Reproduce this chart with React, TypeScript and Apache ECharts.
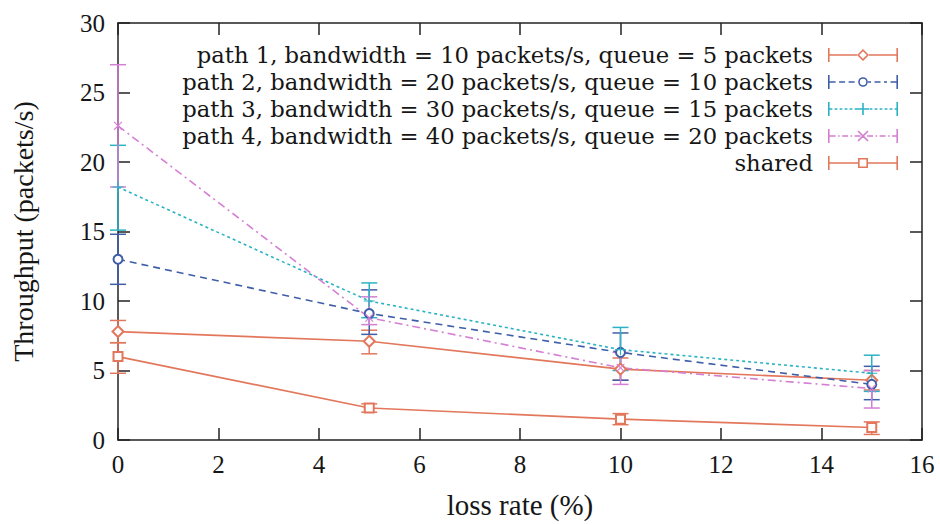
import React, { useEffect, useRef } from 'react';
import * as echarts from 'echarts';

// ---- data ----
const lossRate = [0, 5, 10, 15];
const seriesNames = [
  'path 1, bandwidth = 10 packets/s, queue = 5 packets',
  'path 2, bandwidth = 20 packets/s, queue = 10 packets',
  'path 3, bandwidth = 30 packets/s, queue = 15 packets',
  'path 4, bandwidth = 40 packets/s, queue = 20 packets',
  'shared',
];
const path1 = [7.8, 7.1, 5.1, 4.3];
const path1Lo = [7.0, 6.2, 4.3, 3.6];
const path1Hi = [8.6, 7.9, 5.9, 5.0];
const path2 = [13.0, 9.1, 6.3, 4.0];
const path2Lo = [11.2, 7.6, 4.3, 2.9];
const path2Hi = [14.8, 10.8, 7.7, 5.3];
const path3 = [18.2, 10.0, 6.5, 4.8];
const path3Lo = [15.1, 8.8, 5.0, 3.5];
const path3Hi = [21.2, 11.3, 8.1, 6.1];
const path4 = [22.6, 8.8, 5.2, 3.7];
const path4Lo = [18.2, 8.3, 4.0, 2.3];
const path4Hi = [27.0, 10.3, 6.3, 5.0];
const shared = [6.0, 2.3, 1.5, 0.9];
const sharedLo = [4.8, 2.0, 1.1, 0.4];
const sharedHi = [7.0, 2.6, 1.9, 1.3];
const xTicks = [0, 2, 4, 6, 8, 10, 12, 14, 16];
const yTicks = [0, 5, 10, 15, 20, 25, 30];

const values = [path1, path2, path3, path4, shared];
const lows = [path1Lo, path2Lo, path3Lo, path4Lo, sharedLo];
const highs = [path1Hi, path2Hi, path3Hi, path4Hi, sharedHi];

// ---- styles ----
const colors = ['#e2775c', '#3f5ea8', '#2bb3c4', '#d47fd4', '#e2775c'];
const dashes: any[] = ['solid', [7, 5], [3, 3], [8, 4, 2, 4], 'solid'];
const plusPath = 'path://M-1 -10H1V-1H10V1H1V10H-1V1H-10V-1H-1Z';
const symbols = ['emptyDiamond', 'emptyCircle', plusPath, plusPath, 'emptyRect'];
const symbolSizes = [11, 9, 11, 11, 9];
const symbolRotates = [0, 0, 0, 45, 0];
const FONT = 'Liberation Serif';
const LEGEND_FONT = 'DejaVu Serif';

// ---- legend icons (error-bar style) ----
const W = 70, H = 14, T = 1.6, CY = 7;
const rect = (x1: number, y1: number, x2: number, y2: number) =>
  `M${x1} ${y1}H${x2}V${y2}H${x1}Z`;
const hline = (x1: number, x2: number) => rect(x1, CY - T / 2, x2, CY + T / 2);
const dashed = (x1: number, x2: number, pat: number[]) => {
  let x = x1, i = 0, s = '';
  while (x < x2 - 0.01) {
    const end = Math.min(x + pat[i % pat.length], x2);
    if (i % 2 === 0) s += hline(x, end);
    x = end; i++;
  }
  return s;
};
const caps = rect(0, 0, T, H) + rect(W - T, 0, W, H);
const mid = W / 2;
const icons = [
  caps + hline(T, mid - 6) + hline(mid + 6, W - T) +
    `M${mid} 1L${mid + 6} 7L${mid} 13L${mid - 6} 7Z` +
    `M${mid} 3.2L${mid - 3.8} 7L${mid} 10.8L${mid + 3.8} 7Z`,
  caps + dashed(T, mid - 5, [6, 3.5]) + dashed(mid + 5, W - T, [3, 3.5, 6, 3.5]) +
    `M${mid - 4.8} 7A4.8 4.8 0 1 0 ${mid + 4.8} 7A4.8 4.8 0 1 0 ${mid - 4.8} 7Z` +
    `M${mid - 3.2} 7A3.2 3.2 0 1 1 ${mid + 3.2} 7A3.2 3.2 0 1 1 ${mid - 3.2} 7Z`,
  caps + dashed(T, W - T, [2.8, 2.2]) + rect(mid - 0.8, 1, mid + 0.8, 13) + rect(mid - 6, 6.2, mid + 6, 7.8),
  caps + dashed(T, W - T, [6, 2.5, 1.5, 2.5]) +
    `M${mid - 5.6} 2.6L${mid - 4.4} 1.4L${mid + 5.6} 11.4L${mid + 4.4} 12.6Z` +
    `M${mid + 4.4} 1.4L${mid + 5.6} 2.6L${mid - 4.4} 12.6L${mid - 5.6} 11.4Z`,
  caps + hline(T, mid - 5) + hline(mid + 5, W - T) +
    rect(mid - 5, 2, mid + 5, 12) + `M${mid - 3.4} 3.6V10.4H${mid + 3.4}V3.6Z`,
];

export default function App() {
  const ref = useRef<HTMLDivElement>(null);
  useEffect(() => {
    if (!ref.current) return;
    const chart = echarts.init(ref.current, undefined, { renderer: 'svg' });

    const lineSeries = seriesNames.map((name, i) => ({
      name,
      type: 'line',
      data: lossRate.map((x, j) => [x, values[i][j]]),
      symbol: symbols[i],
      symbolSize: symbolSizes[i],
      symbolRotate: symbolRotates[i],
      showAllSymbol: true,
      clip: false,
      z: 3,
      itemStyle: { color: colors[i], borderWidth: 1.5 },
      lineStyle: { color: colors[i], width: 1.6, type: dashes[i] },
    }));

    const errSeries = seriesNames.map((_, i) => ({
      type: 'custom',
      data: lossRate.map((x, j) => [x, lows[i][j], highs[i][j]]),
      encode: { x: 0, y: [1, 2] },
      clip: false,
      z: 2,
      renderItem: (params: any, api: any) => {
        const x = api.value(0);
        const lo = api.coord([x, api.value(1)]);
        const hi = api.coord([x, api.value(2)]);
        const w = 8;
        const style = { stroke: colors[i], lineWidth: 1.5 };
        return {
          type: 'group',
          children: [
            { type: 'line', shape: { x1: lo[0], y1: lo[1], x2: hi[0], y2: hi[1] }, style },
            { type: 'line', shape: { x1: lo[0] - w, y1: lo[1], x2: lo[0] + w, y2: lo[1] }, style },
            { type: 'line', shape: { x1: hi[0] - w, y1: hi[1], x2: hi[0] + w, y2: hi[1] }, style },
          ],
        };
      },
    }));

    const axisLine = { show: true, onZero: false, lineStyle: { color: '#222', width: 1.5 } };
    const axisTick = { show: true, inside: true, length: 12, lineStyle: { color: '#222', width: 1.5 } };

    chart.setOption({
      animation: false,
      backgroundColor: '#fff',
      grid: { left: 118, right: 18, top: 23, bottom: 85 },
      legend: {
        orient: 'vertical',
        align: 'right',
        right: 42,
        top: 41.5,
        padding: 0,
        itemGap: 0,
        itemWidth: W,
        itemHeight: H,
        selectedMode: false,
        textStyle: { fontFamily: LEGEND_FONT, fontSize: 22.7, color: '#161616', lineHeight: 27, padding: [0, 10, 0, 0] },
        data: seriesNames.map((name, i) => ({
          name,
          icon: 'path://' + icons[i],
          itemStyle: { color: colors[i], borderWidth: 0 },
        })),
      },
      xAxis: [
        {
          type: 'value', min: 0, max: 16, interval: 2,
          name: 'loss rate (%)', nameLocation: 'middle', nameGap: 50,
          nameTextStyle: { fontFamily: FONT, fontSize: 29, color: '#161616' },
          axisLine, axisTick,
          axisLabel: { fontFamily: FONT, fontSize: 25, color: '#161616', margin: 12 },
          splitLine: { show: false },
        },
        {
          type: 'value', min: 0, max: 16, interval: 2, position: 'top',
          axisLine, axisTick, axisLabel: { show: false }, splitLine: { show: false },
        },
      ],
      yAxis: [
        {
          type: 'value', min: 0, max: 30, interval: 5,
          name: 'Throughput (packets/s)', nameLocation: 'middle', nameGap: 81,
          nameTextStyle: { fontFamily: FONT, fontSize: 28, color: '#161616' },
          axisLine, axisTick,
          axisLabel: { fontFamily: FONT, fontSize: 25, color: '#161616', margin: 13 },
          splitLine: { show: false },
        },
        {
          type: 'value', min: 0, max: 30, interval: 5, position: 'right',
          axisLine, axisTick, axisLabel: { show: false }, splitLine: { show: false },
        },
      ],
      series: [...errSeries, ...lineSeries],
    });
    return () => chart.dispose();
  }, []);
  return (
    <div
      ref={ref}
      style={{ position: 'absolute', left: 0, top: 0, width: 940, height: 525 }}
    />
  );
}
